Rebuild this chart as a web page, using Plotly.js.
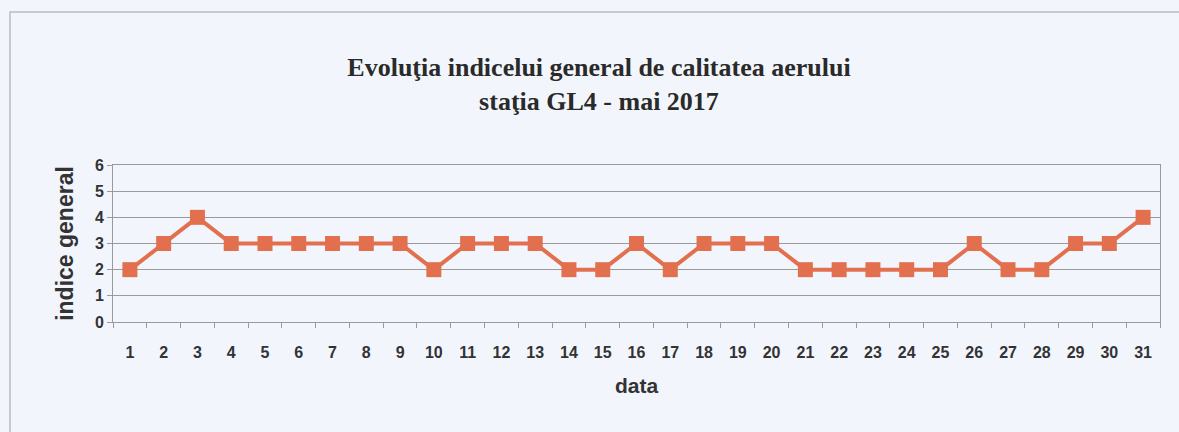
<!DOCTYPE html>
<html>
<head>
<meta charset="utf-8">
<script src="https://cdn.plot.ly/plotly-3.0.1.min.js"></script>
<style>
  body { margin: 0; background: #f2f6fc; }
  #chart { width: 1179px; height: 432px; }
</style>
</head>
<body>
<div id="chart"></div>
<script>
  var zile = [];
  for (var d = 1; d <= 31; d++) zile.push(String(d));

  // indice general
  var indice = [2, 3, 4, 3, 3, 3, 3, 3, 3, 2,
                3, 3, 3, 2, 2, 3, 2, 3, 3, 3,
                2, 2, 2, 2, 2, 3, 2, 2, 3, 3, 4];

  var yTicks = [0, 1, 2, 3, 4, 5, 6];

  var culoare = "#e2704f";
  var gri = "#9a9a9a";
  var arial = "Liberation Sans, Arial, sans-serif";

  var trace = {
      x: zile,
      y: indice,
      type: "scatter",
      mode: "lines+markers",
      line: { color: culoare, width: 4 },
      marker: { symbol: "square", size: 15, color: culoare }
  };

  var layout = {
      width: 1179,
      height: 432,
      paper_bgcolor: "#f2f6fc",
      plot_bgcolor: "#f2f6fc",
      margin: { l: 113, r: 19, t: 165, b: 110 },
      showlegend: false,
      title: {
          text: "<b>Evoluţia indicelui general de calitatea aerului<br>staţia GL4 - mai 2017</b>",
          font: { family: "Liberation Serif, Times New Roman, serif", size: 26, color: "#2a2a2a" },
          x: 599 / 1179,
          xref: "container",
          xanchor: "center",
          y: 1 - 76 / 432,
          yref: "container",
          yanchor: "top"
      },
      xaxis: {
          type: "category",
          range: [-0.5, 30.5],
          tickson: "boundaries",
          ticks: "outside",
          ticklen: 5,
          tickcolor: gri,
          ticklabelstandoff: 16,
          showline: true,
          linecolor: gri,
          linewidth: 1,
          mirror: true,
          showgrid: false,
          tickfont: { family: arial, size: 16, color: "#333", weight: "bold" },
          title: {
              text: "<b>data</b>",
              font: { family: arial, size: 21, color: "#333" },
              standoff: 18
          }
      },
      yaxis: {
          range: [0, 6],
          tickvals: yTicks,
          ticks: "outside",
          ticklen: 5,
          tickcolor: gri,
          showline: true,
          linecolor: gri,
          linewidth: 1,
          mirror: true,
          showgrid: true,
          gridcolor: gri,
          gridwidth: 1,
          zeroline: false,
          tickfont: { family: arial, size: 16, color: "#333", weight: "bold" },
          title: {
              text: "<b>indice general</b>",
              font: { family: arial, size: 23, color: "#333" },
              standoff: 14
          }
      },
      shapes: [{
          type: "rect",
          xref: "paper", yref: "paper",
          x0: (10 - 113) / 1047, x1: 1.1,
          y0: -1.5, y1: (322 - 12) / 157,
          line: { color: "#b8bcc2", width: 1.5 },
          fillcolor: "rgba(0,0,0,0)",
          layer: "below"
      }]
  };

  Plotly.newPlot("chart", [trace], layout, { displayModeBar: false, staticPlot: true });
</script>
</body>
</html>
